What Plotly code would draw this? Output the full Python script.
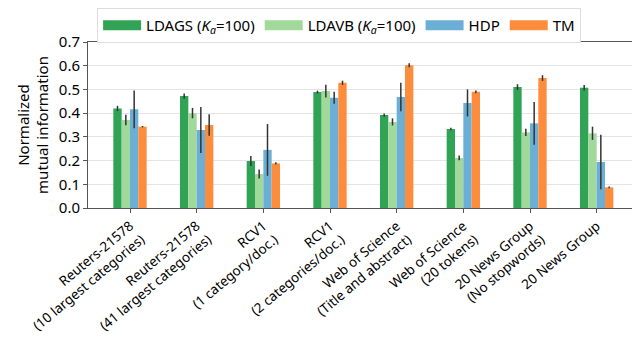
import plotly.graph_objects as go

categories = [
    "Reuters-21578<br>(10 largest categories)",
    "Reuters-21578<br>(41 largest categories)",
    "RCV1<br>(1 category/doc.)",
    "RCV1<br>(2 categories/doc.)",
    "Web of Science<br>(Title and abstract)",
    "Web of Science<br>(20 tokens)",
    "20 News Group<br>(No stopwords)",
    "20 News Group",
]

ldags = [0.420, 0.472, 0.198, 0.489, 0.392, 0.333, 0.510, 0.507]
ldags_err = [0.011, 0.011, 0.021, 0.006, 0.007, 0.005, 0.012, 0.012]
ldavb = [0.371, 0.400, 0.143, 0.493, 0.363, 0.211, 0.319, 0.315]
ldavb_err = [0.022, 0.022, 0.019, 0.027, 0.015, 0.010, 0.015, 0.028]
hdp = [0.416, 0.329, 0.245, 0.465, 0.468, 0.443, 0.357, 0.194]
hdp_err = [0.080, 0.097, 0.109, 0.025, 0.060, 0.057, 0.090, 0.115]
tm = [0.343, 0.350, 0.188, 0.528, 0.602, 0.490, 0.548, 0.087]
tm_err = [0.003, 0.045, 0.005, 0.009, 0.008, 0.006, 0.012, 0.004]

series = [
    ("LDAGS (<i>K</i><sub><i>a</i></sub>=100)", ldags, ldags_err, "#31a354"),
    ("LDAVB (<i>K</i><sub><i>a</i></sub>=100)", ldavb, ldavb_err, "#a1d99b"),
    ("HDP", hdp, hdp_err, "#6baed6"),
    ("TM", tm, tm_err, "#fd8d3c"),
]

font = "Noto Sans"

fig = go.Figure()
for name, vals, errs, color in series:
    fig.add_trace(
        go.Bar(
            x=categories,
            y=vals,
            name=name,
            marker=dict(color=color, line=dict(width=0)),
            error_y=dict(type="data", array=errs, color="#333333", thickness=1.5, width=0),
            showlegend=False,
        )
    )

# legend-only entries so the swatches come out as wide patches like the original
for name, vals, errs, color in series:
    fig.add_trace(
        go.Scatter(
            x=[categories[0]],
            y=[None],
            mode="lines",
            name=name,
            line=dict(color=color, width=11),
            hoverinfo="skip",
        )
    )

# the page body has an 8px margin, so the figure is 8px smaller than the window
fig.update_layout(
    width=632,
    height=330,
    barmode="group",
    bargap=0.5,
    bargroupgap=0,
    plot_bgcolor="white",
    paper_bgcolor="white",
    margin=dict(l=80, r=2, t=34, b=130, autoexpand=False),
    font=dict(family=font, size=14, color="black"),
    showlegend=True,
    legend=dict(
        orientation="h",
        xref="container",
        yref="container",
        xanchor="left",
        x=0.141,
        yanchor="top",
        y=1.0,
        bordercolor="#dddddd",
        borderwidth=1,
        font=dict(size=15),
        itemwidth=38,
    ),
    xaxis=dict(
        range=[-0.63, 7.62],
        tickangle=-40,
        ticks="outside",
        ticklen=4,
        tickcolor="#555555",
        showline=True,
        linecolor="#555555",
        mirror=True,
        linewidth=1,
        showgrid=False,
        automargin=False,
        tickfont=dict(size=13.5),
    ),
    yaxis=dict(
        range=[0, 0.7],
        dtick=0.1,
        tickformat=".1f",
        ticks="outside",
        ticklen=4,
        tickcolor="#555555",
        showline=True,
        linecolor="#555555",
        mirror=True,
        linewidth=1,
        showgrid=True,
        gridcolor="#e5e5e5",
        zeroline=False,
        automargin=False,
        tickfont=dict(size=15),
        title=dict(text="Normalized<br>mutual information", font=dict(size=15), standoff=6),
    ),
)

fig.write_html("out.html")
